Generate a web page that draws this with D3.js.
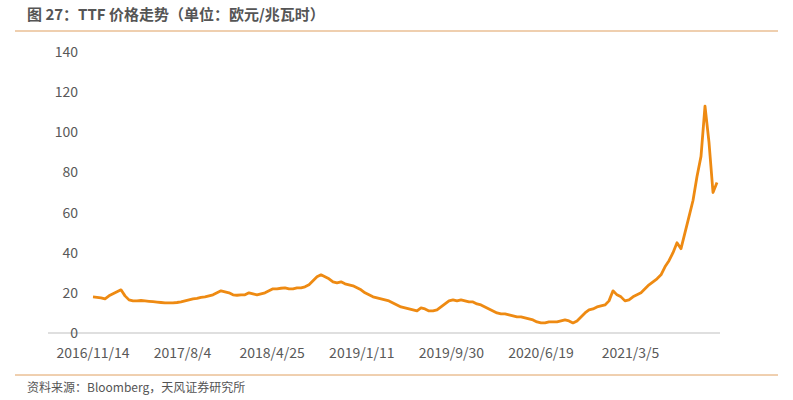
<!DOCTYPE html><html><head><meta charset="utf-8"><script src="https://cdn.jsdelivr.net/npm/d3@7"></script>
<style>body{margin:0;background:#fff}text{font-family:"Microsoft YaHei","Noto Sans CJK SC",sans-serif}</style></head><body><svg id="c" width="793" height="400"></svg><script>
const values=[18,17.8,17.5,17,18.5,19.5,20.5,21.5,18.5,16.5,16,16,16.2,16,15.8,15.6,15.4,15.2,15,15,15,15.2,15.5,16,16.5,17,17.3,17.8,18,18.5,19,20,21,20.5,20,19,18.8,19,19,20,19.5,19,19.5,20,21,22,22,22.3,22.5,22,22,22.5,22.5,23,24,26,28,29,28,27,25.5,25,25.5,24.5,24,23.5,22.5,21.5,20,19,18,17.5,17,16.5,16,15,14,13,12.5,12,11.5,11,12.5,12,11,11,11.5,13,14.5,16,16.5,16,16.5,16,15.5,15.5,14.5,14,13,12,11,10,9.5,9.5,9,8.5,8,8,7.5,7,6.5,5.5,5,5,5.5,5.5,5.5,6,6.5,6,5,6,8,10,11.5,12,13,13.5,14,16,21,19,18,16,16.5,18,19,20,22,24,25.5,27,29,33,36,40,45,42,50,58,66,78,88,113,95,70,75];
const tickLabels=["2016/11/14","2017/8/4","2018/4/25","2019/1/11","2019/9/30","2020/6/19","2021/3/5"];
const tickIdx=[0,22.4,44.8,67.2,89.6,112,134.4];
const yTicks=[0,20,40,60,80,100,120,140];
const svg=d3.select("#c");
svg.append("text").attr("x",27).attr("y",20).attr("font-size",15).attr("font-weight","bold").attr("fill","#555").text("图 27：TTF 价格走势（单位：欧元/兆瓦时）");
svg.append("line").attr("x1",15).attr("x2",778).attr("y1",31).attr("y2",31).attr("stroke","#E0A060").attr("stroke-width",1.2);
const x=d3.scaleLinear().domain([0,values.length-1]).range([93,717]);
const y=d3.scaleLinear().domain([0,140]).range([333,52]);
svg.append("line").attr("x1",48).attr("x2",720).attr("y1",333).attr("y2",333).attr("stroke","#bfbfbf");
svg.selectAll(".yl").data(yTicks).join("text").attr("x",78).attr("y",d=>y(d)+5).attr("text-anchor","end").attr("font-size",14).attr("fill","#595959").text(d=>d);
svg.selectAll(".xl").data(tickLabels).join("text").attr("x",(d,i)=>x(tickIdx[i])).attr("y",358).attr("text-anchor","middle").attr("font-size",14).attr("fill","#595959").text(d=>d);
svg.append("path").datum(values).attr("fill","none").attr("stroke","#EE8A12").attr("stroke-width",2.8).attr("stroke-linejoin","round").attr("d",d3.line().x((d,i)=>x(i)).y(d=>y(d)));
svg.append("line").attr("x1",15).attr("x2",778).attr("y1",375).attr("y2",375).attr("stroke","#E0A060").attr("stroke-width",1);
svg.append("text").attr("x",27).attr("y",392).attr("font-size",12).attr("fill","#555").text("资料来源：Bloomberg，天风证券研究所");
</script></body></html>
